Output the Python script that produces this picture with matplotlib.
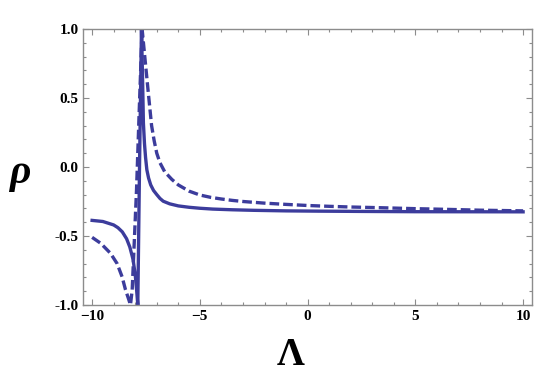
import matplotlib
matplotlib.use("Agg")
import matplotlib.pyplot as plt
from matplotlib.ticker import MultipleLocator, FormatStrFormatter

# solid curve
lam_solid = [-10, -9.5, -9.0, -8.8, -8.6, -8.4, -8.25, -8.1, -8.0, -7.93, -7.88,
             -7.80, -7.71, -7.66, -7.62, -7.57, -7.52, -7.46, -7.38, -7.28,
             -7.15, -7.0, -6.85, -6.7, -6.4, -6.0, -5.5, -5.0, -4.4, -3.5,
             -2.5, -1.0, 0.5, 2.5, 5.0, 10.0]
rho_solid = [-0.387, -0.395, -0.42, -0.44, -0.47, -0.52, -0.58, -0.67, -0.78, -0.90, -1.0,
             0.0, 1.0, 0.65, 0.32, 0.17, 0.07, -0.02, -0.08, -0.13,
             -0.17, -0.20, -0.228, -0.248, -0.267, -0.282, -0.292, -0.299, -0.305, -0.31,
             -0.314, -0.318, -0.32, -0.322, -0.324, -0.325]

# dashed curve
lam_dash = [-10, -9.6, -9.15, -8.84, -8.61, -8.45, -8.30, -8.22,
            -8.14, -7.94, -7.82, -7.68, -7.55, -7.4, -7.24, -7.12, -7.0,
            -6.85, -6.63, -6.3, -6.0, -5.5, -5.0, -4.5, -4.0, -3.5, -3.0,
            -2.0, -1.0, 0.0, 1.0, 2.0, 3.35, 5.0, 6.45, 8.0, 10.0]
rho_dash = [-0.51, -0.553, -0.625, -0.70, -0.795, -0.89, -0.96, -1.0,
            -0.89, -0.17, 0.38, 1.0, 0.79, 0.55, 0.30, 0.19, 0.10,
            0.03, -0.035, -0.09, -0.13, -0.175, -0.203, -0.22, -0.232, -0.242, -0.25,
            -0.262, -0.271, -0.279, -0.285, -0.29, -0.295, -0.302, -0.307, -0.313, -0.318]

col = '#3c3c9c'
frame = '#8c8c8c'

fig = plt.figure(figsize=(5.54, 3.80), dpi=100)
ax = fig.add_axes([0.1507, 0.1974, 0.8091, 0.7263])

ax.plot(lam_solid, rho_solid, color=col, lw=2.4, solid_joinstyle='round')
ax.plot(lam_dash, rho_dash, color=col, lw=2.4, dashes=(2.9, 1.2))

ax.set_xlim(-10.4, 10.4)
ax.set_ylim(-1, 1)

ax.xaxis.set_major_locator(MultipleLocator(5))
ax.xaxis.set_minor_locator(MultipleLocator(1))
ax.yaxis.set_major_locator(MultipleLocator(0.5))
ax.yaxis.set_minor_locator(MultipleLocator(0.1))
ax.yaxis.set_major_formatter(FormatStrFormatter('%.1f'))

for s in ax.spines.values():
    s.set_color(frame)
    s.set_linewidth(1.0)

ax.tick_params(which='both', direction='in', top=True, right=True, color=frame, width=0.8)
ax.tick_params(which='major', length=4.5)
ax.tick_params(which='minor', length=2.5)
for lab in ax.get_xticklabels() + ax.get_yticklabels():
    lab.set_fontfamily('Liberation Serif')
    lab.set_fontweight('bold')
    lab.set_fontsize(11)

fig.text(0.035, 0.545, '\u03c1', fontsize=30, ha='center', va='center',
         fontfamily='Liberation Serif', fontweight='bold', fontstyle='italic')
fig.text(0.525, 0.064, '\u039b', fontsize=28, ha='center', va='center',
         fontfamily='Liberation Serif', fontweight='bold')

fig.savefig('out.png', dpi=100)
